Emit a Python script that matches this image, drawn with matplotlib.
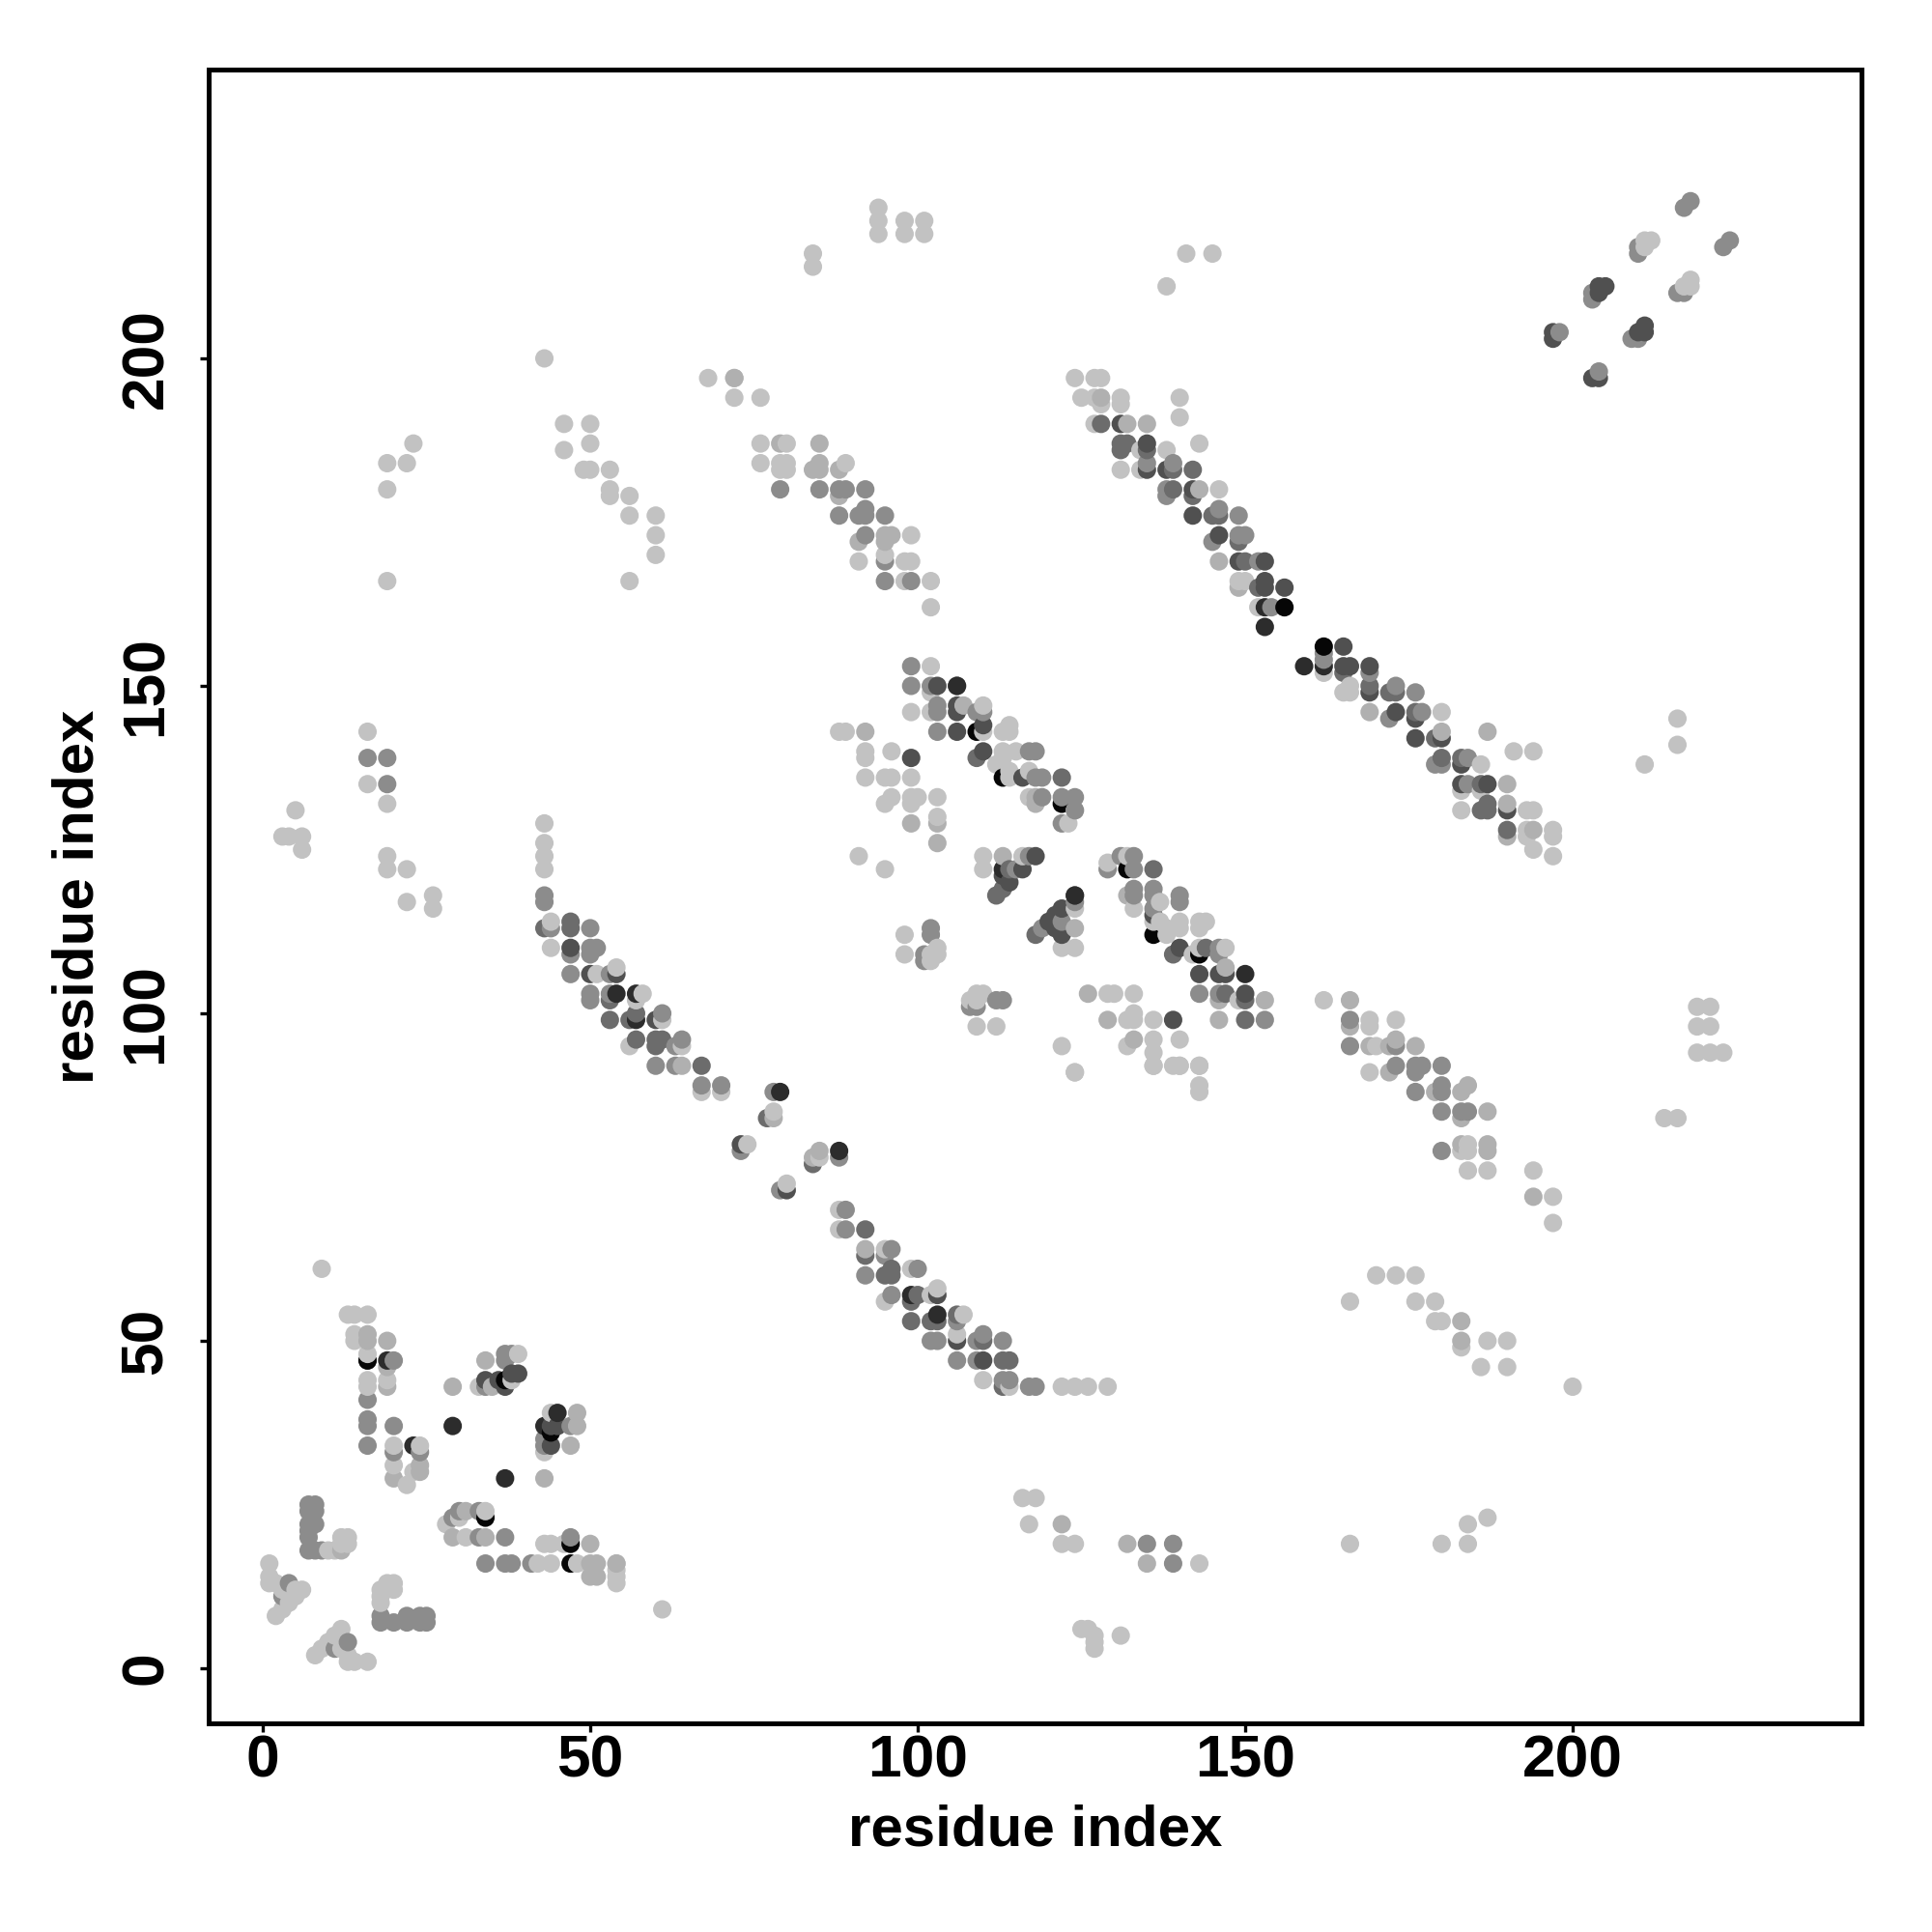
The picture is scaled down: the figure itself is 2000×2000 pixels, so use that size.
import numpy as np
import matplotlib
matplotlib.use("Agg")
import matplotlib.pyplot as plt

# Contact pairs (residue x, residue y), grouped by how dark the dot is.
contacts_light = [
    (9,61),(13,54),(14,54),(16,54),(14,51),(14,50),(16,48),(16,44),(16,43),(19,44),(20,31),(22,28),(23,30),(24,34),
    (20,34),(39,48),(34,24),(30,23),(28,22),(31,20),(38,44),(33,43),(44,39),(43,33),(42,16),(44,16),(43,19),(44,19),
    (46,19),(48,16),(54,16),(54,15),(54,14),(54,13),(61,9),(10,18),(11,18),(12,20),(13,20),(13,19),(12,19),
    (1,16),(1,14),(1,13),(2,13),(5,12),(6,12),(5,11),(4,10),(3,9),(2,8),(3,12),(8,2),(9,3),(10,4),(11,5),(12,6),(12,3),
    (13,2),(13,1),(14,1),(16,1),(18,12),(18,11),(18,10),(19,13),(20,13),(20,12),
    (43,129),(43,126),(43,124),(43,122),(44,114),(44,110),(51,106),(54,107),(58,103),(57,102),(61,99),(56,95),(64,95),
    (67,88),(70,88),(78,85),(74,80),(85,78),(80,74),(88,70),(88,67),(95,64),(95,56),(99,61),(102,57),(103,58),(107,54),
    (106,51),(110,44),(114,43),(122,43),(124,43),(126,43),(129,43),(116,26),(118,26),(117,22),(122,19),(124,19),(143,16),
    (124,91),(136,92),(139,92),(140,92),(143,92),(143,89),(143,88),(125,6),(126,6),(127,5),(127,4),(127,3),(131,5),
    (102,153),(102,149),(99,146),(102,146),(110,147),(110,143),(114,144),(113,143),(114,143),(88,143),(89,143),
    (92,140),(92,139),(96,140),(113,140),(115,140),(112,138),(113,139),(114,137),(117,137),(114,136),(92,136),(95,136),
    (96,136),(99,136),(96,133),(95,132),(99,133),(100,133),(99,132),(103,133),(117,133),(124,131),(123,129),(103,130),
    (91,124),(95,122),(110,124),(110,122),(116,124),(124,116),(122,110),(124,110),(129,123),(132,124),(133,116),(137,117),
    (140,114),(140,113),(137,114),(136,114),(138,113),(138,112),(143,114),(144,114),(143,113),(142,109),(143,110),(147,110),
    (149,102),(129,103),(130,103),(133,103),(132,99),(133,100),(133,99),(136,99),(132,95),(136,96),(136,94),(140,96),
    (122,95),(124,91),(136,92),(140,92),(143,92),(98,112),(98,109),(102,108),(103,110),(103,109),(102,109),(108,102),
    (109,103),(110,103),(109,102),(109,98),(112,98),
    (124,197),(127,197),(128,197),(125,194),(127,194),(128,193),(131,194),(131,193),(127,190),(140,194),(140,191),(143,187),
    (138,186),(134,186),(131,183),(134,183),(146,180),(149,166),(150,166),(152,162),(162,152),(165,149),(166,150),(166,149),
    (180,146),(186,138),(191,140),(194,140),(183,134),(186,134),(183,131),(193,131),(194,131),(193,128),(193,127),(194,125),
    (197,128),(197,127),(197,124),
    (72,194),(76,194),(76,187),(80,187),(76,184),(79,184),(80,184),(79,183),(80,183),(89,184),(99,173),(91,169),(95,170),
    (98,169),(99,169),(98,166),(102,166),(102,162),
    (162,102),(169,99),(169,98),(173,99),(170,95),(169,91),(184,80),(183,79),(184,79),(184,76),(187,76),(194,76),(197,72),(197,68),
    (219,101),(221,101),(219,98),(221,98),(219,94),(221,94),(223,94),(214,84),(216,84),
    (170,60),(173,60),(176,60),(166,56),(176,56),(179,56),(179,53),(180,53),(183,49),(187,50),(190,50),(186,46),(190,46),(200,43),
    (187,23),(184,22),(166,19),(180,19),(184,19),(212,218),(211,218),(211,217),(218,212),(217,211),(218,211),
    (94,223),(94,221),(94,219),(98,221),(98,219),(101,221),(101,219),(84,216),(84,214),(141,216),(145,216),(138,211),
    (43,200),(68,197),(72,197),(46,190),(50,190),(46,186),(50,187),(49,183),(50,183),(53,183),(53,180),(53,179),(56,179),(56,176),
    (60,176),(60,173),(60,170),(56,166),(19,166),(19,184),(22,184),(23,187),(19,180),(16,143),(16,135),(19,132),(19,124),(19,122),
    (22,122),(22,117),(26,118),(26,116),(5,131),(3,127),(4,127),(6,127),(6,125),(211,138),(216,145),(216,141),
]
contacts_pale = [
    (16,51),(16,50),(19,50),(19,46),(19,43),(20,29),(24,31),(24,30),(34,47),(31,24),(29,20),(34,20),(29,43),(35,43),(48,39),(48,37),
    (47,34),(43,29),(50,19),(50,14),(51,14),(50,16),(51,16),(54,16),(12,18),
    (64,92),(78,84),(85,79),(84,78),(92,64),(122,22),(132,19),(135,16),
    (92,143),(103,126),(99,129),(103,129),(107,147),(118,133),(118,132),(113,124),(124,113),(147,107),(146,102),(153,102),
    (146,99),(126,103),(129,99),(133,96),(132,118),(135,190),(132,190),(128,194),(143,180),(146,169),(149,165),(169,146),(180,143),
    (187,143),(190,135),(190,132),(190,127),(194,128),
    (72,197),(79,187),(85,187),(84,183),(85,184),(85,183),(88,183),(88,179),(91,172),(96,173),(95,172),(95,173),
    (166,102),(166,98),(169,95),(172,95),(173,96),(176,95),(172,91),(179,88),(183,88),(184,89),(183,84),(187,85),(183,80),(187,80),
    (187,79),(194,72),(183,50),(183,53),
]
contacts_mid = [
    (20,47),(16,41),(16,38),(16,37),(16,34),(20,33),(24,33),(37,48),(38,48),(37,47),(34,43),(47,37),(43,35),(43,34),(33,24),(30,24),(29,23),
    (33,20),(37,20),(47,20),(34,16),(37,16),(38,16),(41,16),(7,25),(8,25),(7,24),(8,24),(7,22),(8,22),(7,21),(7,20),(7,18),(8,18),(9,18),
    (4,13),(3,11),(11,3),(13,4),(18,7),(20,7),(22,7),(24,7),(25,7),(18,8),(22,8),(24,8),(25,8),(16,47),(20,37),
    (43,118),(43,117),(44,113),(50,113),(47,109),(50,110),(51,110),(50,109),(47,106),(53,106),(50,103),(50,102),(53,103),(61,100),(63,95),(64,96),
    (60,92),(63,92),(67,89),(70,89),(78,88),(73,79),(88,78),(79,73),(89,70),(89,67),(96,64),(95,63),(92,60),(96,57),(100,61),
    (106,53),(102,50),(103,50),(109,50),(110,51),(113,50),(106,47),(109,47),(113,44),(114,44),(117,43),(118,43),(135,19),(139,19),(139,16),
    (99,153),(99,150),(102,150),(103,147),(103,146),(103,143),(109,146),(110,146),(117,140),(118,140),(118,136),(119,136),(119,133),(122,133),
    (124,133),(124,131),(122,129),(117,124),(115,122),(124,117),(122,114),(119,113),(129,122),(131,124),(133,124),(133,122),(133,119),(133,118),
    (136,119),(136,118),(136,116),(140,118),(140,117),(146,110),(146,109),(143,103),(146,103),(153,99),(102,113),(102,112),(101,109),(101,108),
    (108,101),(109,101),(112,102),(113,102),
    (135,184),(139,184),(138,180),(138,179),(146,177),(149,176),(145,172),(149,173),(150,173),(152,169),(154,162),(162,155),(162,154),(169,152),
    (173,150),(176,149),(172,145),(177,146),(179,138),(180,138),(184,139),(184,135),
    (79,180),(85,180),(88,180),(89,180),(92,180),(88,176),(91,176),(92,177),(92,176),(95,176),(92,173),(95,169),(95,166),(99,166),
    (166,99),(166,95),(173,95),(173,92),(176,92),(177,92),(176,91),(180,92),(176,88),(180,89),(180,88),(180,85),(183,85),(184,85),(180,79),
    (218,224),(217,223),(224,218),(223,217),(210,217),(210,216),(216,210),(217,210),(203,210),(203,209),(209,203),(210,203),(198,204),(204,198),
    (16,139),(19,139),(19,135),
]
contacts_slate = [
    (43,113),(47,114),(47,113),(53,102),(53,99),(56,99),(57,100),(57,96),(60,96),(61,96),(60,95),(67,92),(77,84),(84,77),(92,67),(92,63),
    (95,60),(96,61),(96,60),(99,56),(99,53),(100,57),(102,53),(103,53),(106,54),(110,50),(113,47),(114,47),(113,43),
    (106,150),(122,136),(109,139),(112,118),(113,119),(114,122),(118,112),(136,122),(139,109),(144,110),(147,103),(150,102),(150,99),
    (128,190),(131,187),(132,187),(131,186),(135,186),(142,183),(139,183),(139,180),(142,179),(145,176),(146,176),(149,172),(150,169),
    (152,165),(169,150),(172,149),(173,149),(176,146),(179,142),(183,139),(180,139),(186,135),(186,131),(187,132),(187,131),(190,128),(165,152),
]
contacts_dark = [
    (47,110),(50,106),(54,106),(60,99),(73,80),(80,73),(103,150),(106,147),(106,146),(106,143),(110,144),(110,140),(99,139),(116,136),
    (113,121),(114,120),(116,122),(118,124),(122,116),(121,115),(120,114),(121,113),(122,112),(124,118),(136,115),(140,110),(143,106),
    (146,106),(147,106),(150,103),(139,99),(110,47),(103,57),(106,50),(44,37),(45,37),(38,45),(39,45),(34,44),(36,44),(37,43),(44,34),
    (131,190),(135,187),(135,183),(138,183),(142,180),(142,176),(146,173),(149,169),(153,169),(153,166),(153,165),(156,165),(165,156),
    (165,153),(166,153),(169,153),(169,149),(173,146),(176,145),(176,142),(180,142),(183,138),(183,135),(187,135),(190,131),
    (205,211),(204,211),(204,210),(211,205),(210,204),(211,204),(197,204),(197,203),(203,197),(204,197),
]
contacts_near_black = [
    (19,47),(23,34),(29,37),(37,29),(45,39),(43,37),(54,103),(57,99),(57,103),(79,88),(88,79),(103,54),(106,150),(113,122),(124,118),
    (150,106),(153,162),(153,159),(159,153),(162,153),(99,57),
]
contacts_black = [
    (16,47),(34,23),(37,44),(44,36),(47,19),(47,16),(109,143),(113,136),(122,132),(132,122),(136,112),(143,109),(162,156),(156,162),
]

level_contacts = [contacts_light, contacts_pale, contacts_mid, contacts_slate, contacts_dark, contacts_near_black, contacts_black]
level_greys = ["#c2c2c2", "#b0b0b0", "#8c8c8c", "#6c6c6c", "#505050", "#2c2c2c", "#060606"]
x_ticks = [0, 50, 100, 150, 200]
y_ticks = [0, 50, 100, 150, 200]


# Join the groups, then draw sorted by x and y since later dots sit on top.
def build_points():
    xs, ys, greys = [], [], []
    for contacts, grey in zip(level_contacts, level_greys):
        for x, y in contacts:
            xs.append(x)
            ys.append(y)
            greys.append(grey)
    order = np.lexsort((ys, xs))
    return np.array(xs)[order], np.array(ys)[order], np.array(greys)[order]


def main():
    plt.rcParams["font.family"] = ["Liberation Sans", "DejaVu Sans"]
    plt.rcParams["font.weight"] = "bold"

    fig = plt.figure(figsize=(10, 10), dpi=200)
    ax = fig.add_axes([216 / 2000, 216 / 2000, 1711 / 2000, 1712 / 2000])

    xs, ys, greys = build_points()
    ax.scatter(xs, ys, s=47, c=list(greys), linewidths=0)

    ax.set_xlim(-8.26, 244.1)
    ax.set_ylim(-8.4, 244.1)
    ax.set_xticks(x_ticks)
    ax.set_yticks(y_ticks)
    ax.tick_params(axis="both", length=3.2, width=1.2, labelsize=22.4)
    ax.tick_params(axis="x", pad=1)
    ax.tick_params(axis="y", pad=9.4)
    plt.setp(ax.get_yticklabels(), rotation=90, va="center")
    for spine in ax.spines.values():
        spine.set_linewidth(1.8)

    ax.set_xlabel("residue index", fontsize=21.6, fontweight="bold", labelpad=5.5)
    ax.set_ylabel("residue index", fontsize=21.6, fontweight="bold", labelpad=5.6)

    fig.savefig("out.png", dpi=200)


if __name__ == "__main__":
    main()
